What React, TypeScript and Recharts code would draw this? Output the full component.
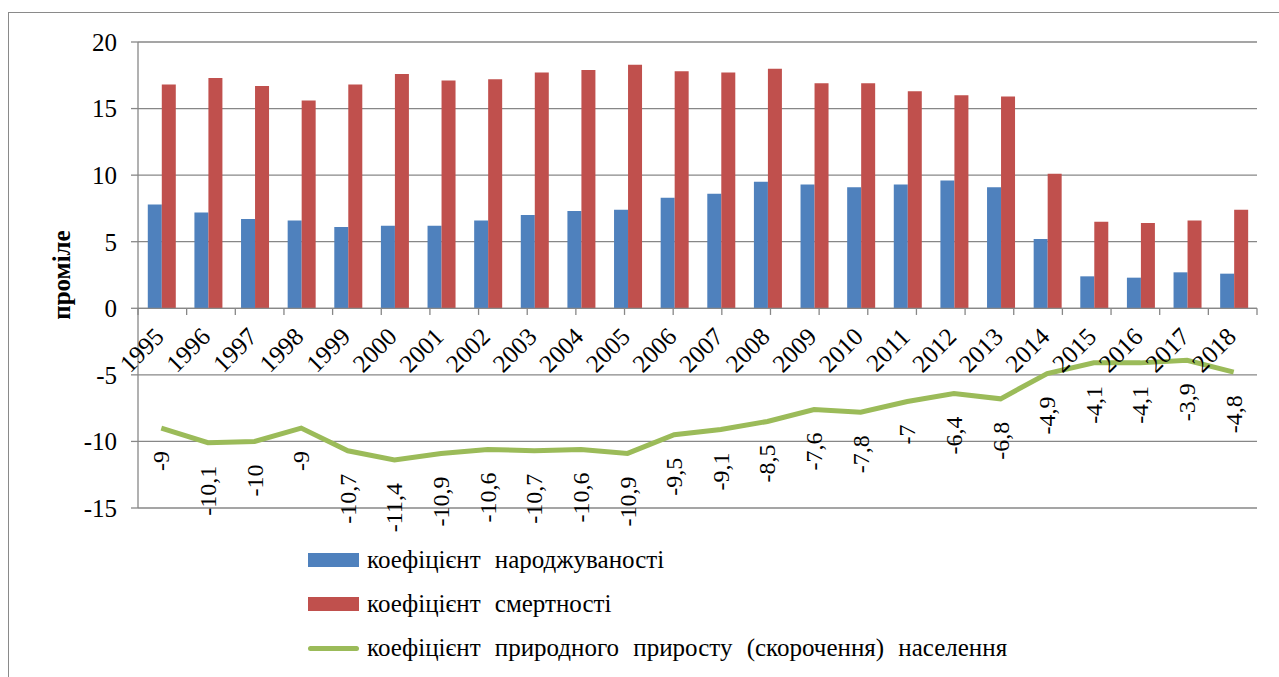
import React from 'react';
import {
  ComposedChart,
  Bar,
  Line,
  XAxis,
  YAxis,
  CartesianGrid,
  LabelList,
  ReferenceDot,
  ReferenceLine,
} from 'recharts';

const years = ['1995', '1996', '1997', '1998', '1999', '2000', '2001', '2002', '2003', '2004', '2005', '2006', '2007', '2008', '2009', '2010', '2011', '2012', '2013', '2014', '2015', '2016', '2017', '2018'];
const birthRate = [7.8, 7.2, 6.7, 6.6, 6.1, 6.2, 6.2, 6.6, 7.0, 7.3, 7.4, 8.3, 8.6, 9.5, 9.3, 9.1, 9.3, 9.6, 9.1, 5.2, 2.4, 2.3, 2.7, 2.6];
const deathRate = [16.8, 17.3, 16.7, 15.6, 16.8, 17.6, 17.1, 17.2, 17.7, 17.9, 18.3, 17.8, 17.7, 18.0, 16.9, 16.9, 16.3, 16.0, 15.9, 10.1, 6.5, 6.4, 6.6, 7.4];
const naturalGrowth = [-9, -10.1, -10, -9, -10.7, -11.4, -10.9, -10.6, -10.7, -10.6, -10.9, -9.5, -9.1, -8.5, -7.6, -7.8, -7, -6.4, -6.8, -4.9, -4.1, -4.1, -3.9, -4.8];
const yTicks = [-15, -10, -5, 0, 5, 10, 15, 20];
const seriesNames = [
  'коефіцієнт народжуваності',
  'коефіцієнт смертності',
  'коефіцієнт природного приросту (скорочення) населення',
];
const yAxisTitle = 'проміле';

const COLORS = { birth: '#4F81BD', death: '#C0504D', growth: '#9BBB59' };
const FONT = '"Liberation Serif", "Times New Roman", serif';
const GRID = '#878787';

const data = years.map((y, i) => ({
  year: y,
  birth: birthRate[i],
  death: deathRate[i],
  growth: naturalGrowth[i],
}));

const boundaries = years.map((_, i) => i).concat([years.length]);

const fmt = (v: number) => String(v).replace('.', ',');

const GrowthLabel = (props: any) => {
  const { x, y, value } = props;
  if (x == null || y == null) return null;
  const ax = x;
  const ay = y + 23;
  return (
    <text
      x={ax}
      y={ay}
      transform={`rotate(-90 ${ax} ${ay})`}
      textAnchor="end"
      dominantBaseline="central"
      fontFamily={FONT}
      fontSize={24}
      fill="#000"
    >
      {fmt(value)}
    </text>
  );
};

const YearLabel = (label: string) => (props: any) => {
  const { cx, cy } = props;
  if (cx == null || cy == null) return null;
  const ax = cx + 4;
  const ay = cy + 30;
  return (
    <text
      x={ax}
      y={ay}
      transform={`rotate(-45 ${ax} ${ay})`}
      textAnchor="end"
      fontFamily={FONT}
      fontSize={25}
      fill="#000"
    >
      {label}
    </text>
  );
};

const LegendRow = ({ color, name, line }: { color: string; name: string; line?: boolean }) => (
  <div style={{ display: 'flex', alignItems: 'center', height: 44 }}>
    <div style={{ width: 51, display: 'flex', alignItems: 'center', justifyContent: 'center' }}>
      {line ? (
        <div style={{ width: 51, height: 5, borderRadius: 3, background: color }} />
      ) : (
        <div style={{ width: 51, height: 14, background: color }} />
      )}
    </div>
    <span
      style={{ marginLeft: 8, fontFamily: FONT, fontSize: 25, color: '#000', whiteSpace: 'pre', wordSpacing: 8 }}
    >
      {name}
    </span>
  </div>
);

export default function App() {
  return (
    <div style={{ position: 'absolute', left: 0, top: 0, width: 1279, height: 677, overflow: 'hidden', background: '#fff' }}>
      <div
        style={{
          position: 'absolute',
          left: 8,
          top: 12,
          width: 1400,
          height: 800,
          borderLeft: '1px solid #8a8a8a',
          borderTop: '1px solid #8a8a8a',
        }}
      />
      <div style={{ position: 'absolute', left: 0, top: 0 }}>
        <ComposedChart
          width={1279}
          height={677}
          data={data}
          margin={{ top: 42, right: 22, left: 0, bottom: 169 }}
          barCategoryGap="21%"
          barGap={0}
        >
          <CartesianGrid vertical={false} stroke={GRID} strokeWidth={1.3} />
          <XAxis dataKey="year" hide />
          <XAxis xAxisId="b" type="number" domain={[0, years.length]} allowDataOverflow hide />
          <YAxis
            width={138}
            domain={[-15, 20]}
            ticks={yTicks}
            interval={0}
            allowDataOverflow
            axisLine={{ stroke: GRID, strokeWidth: 1.3 }}
            tickLine={{ stroke: GRID, strokeWidth: 1.3 }}
            tickSize={7}
            tickMargin={14}
            tick={{ fontFamily: FONT, fontSize: 25, fill: '#000' }}
            label={{
              value: yAxisTitle,
              angle: -90,
              position: 'insideLeft',
              offset: 61,
              style: { fontFamily: FONT, fontSize: 25, fontWeight: 'bold', fill: '#000', textAnchor: 'middle' },
            }}
          />
          <Bar dataKey="birth" fill={COLORS.birth} isAnimationActive={false} />
          <Bar dataKey="death" fill={COLORS.death} isAnimationActive={false} />
          <ReferenceLine y={0} stroke={GRID} strokeWidth={1.3} />
          {boundaries.map((b) => (
            <ReferenceLine
              key={`tk${b}`}
              xAxisId="b"
              segment={[
                { x: b, y: 0 },
                { x: b, y: -0.5 },
              ]}
              stroke={GRID}
              strokeWidth={1.3}
              ifOverflow="visible"
            />
          ))}
          <Line
            dataKey="growth"
            stroke={COLORS.growth}
            strokeWidth={5}
            dot={false}
            activeDot={false}
            isAnimationActive={false}
          >
            <LabelList dataKey="growth" content={GrowthLabel} />
          </Line>
          {years.map((y) => (
            <ReferenceDot key={`yl${y}`} x={y} y={0} r={0} ifOverflow="visible" shape={YearLabel(y)} />
          ))}
        </ComposedChart>
      </div>
      <div style={{ position: 'absolute', left: 308, top: 538 }}>
        <LegendRow color={COLORS.birth} name={seriesNames[0]} />
        <LegendRow color={COLORS.death} name={seriesNames[1]} />
        <LegendRow color={COLORS.growth} name={seriesNames[2]} line />
      </div>
    </div>
  );
}
